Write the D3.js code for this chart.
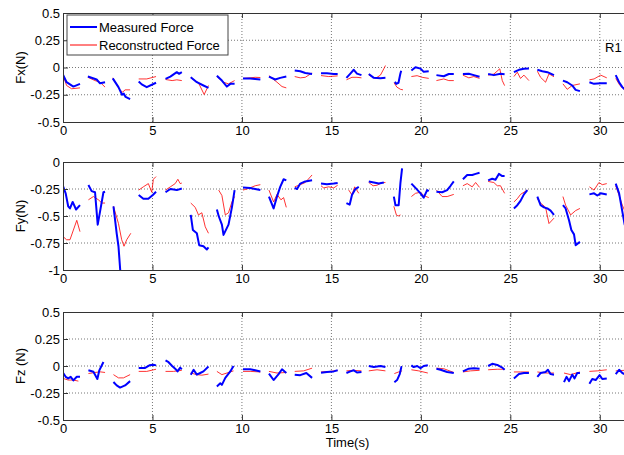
<!DOCTYPE html>
<html>
<head>
<meta charset="utf-8">
<script src="https://cdn.jsdelivr.net/npm/d3@7"></script>
<style>
  body { margin: 0; background: #fff; }
  svg { display: block; font-family: "Liberation Sans", Arial, sans-serif; }
  .grid line { stroke: #777; stroke-dasharray: 1,2; }
  .axis path, .axis line { stroke: #333; }
</style>
</head>
<body>
<div id="chart_div"></div>
<script>

// time axis
var timeTicks = [0, 5, 10, 15, 20, 25, 30];
var fxTicks = [-0.5, -0.25, 0, 0.25, 0.5];
var fyTicks = [-1, -0.75, -0.5, -0.25, 0];
var fzTicks = [-0.5, -0.25, 0, 0.25, 0.5];

// Fx, one array of [t, value] per recorded segment
var fxMeasured = [
    [[0,-0.065],[0.2,-0.135],[0.58,-0.175],[0.95,-0.15]],
    [[1.39,-0.083],[1.88,-0.11],[2.07,-0.145],[2.35,-0.135]],
    [[2.78,-0.10],[3.1,-0.18],[3.3,-0.25],[3.4,-0.24],[3.5,-0.27],[3.75,-0.29]],
    [[4.23,-0.128],[4.4,-0.155],[4.68,-0.18],[5.2,-0.14]],
    [[5.73,-0.104],[6.0,-0.083],[6.36,-0.043],[6.49,-0.058],[6.64,-0.043]],
    [[7.14,-0.09],[7.48,-0.135],[7.85,-0.165],[8.13,-0.187]],
    [[8.6,-0.075],[8.88,-0.12],[9.16,-0.175],[9.35,-0.15],[9.59,-0.15]],
    [[10.06,-0.10],[10.46,-0.1],[10.74,-0.105],[11.03,-0.11]],
    [[11.51,-0.083],[11.86,-0.11],[12.14,-0.095],[12.48,-0.083]],
    [[12.95,-0.028],[13.26,-0.034],[13.54,-0.05],[13.92,-0.06]],
    [[14.42,-0.052],[14.75,-0.052],[15.13,-0.06],[15.35,-0.06]],
    [[15.84,-0.095],[16.06,-0.056],[16.25,-0.021],[16.43,-0.056],[16.68,-0.07]],
    [[17.09,-0.06],[17.37,-0.095],[17.74,-0.098],[18.02,-0.095]],
    [[18.55,-0.13],[18.62,-0.15],[18.75,-0.14],[18.85,-0.06],[18.9,-0.03]],
    [[19.47,-0.028],[19.7,0.003],[19.98,-0.01],[20.16,-0.04],[20.44,-0.035]],
    [[20.87,-0.07],[21.28,-0.08],[21.56,-0.06],[21.84,-0.06]],
    [[22.35,-0.06],[22.68,-0.058],[22.96,-0.07],[23.28,-0.085]],
    [[23.76,-0.06],[24.08,-0.07],[24.45,-0.058],[24.68,-0.062]],
    [[25.2,-0.043],[25.48,-0.021],[25.76,-0.012],[26.04,-0.01]],
    [[26.51,-0.021],[26.79,-0.034],[27.07,-0.043],[27.44,-0.07]],
    [[27.94,-0.12],[28.18,-0.135],[28.46,-0.165],[28.65,-0.205],[28.89,-0.217]],
    [[29.42,-0.135],[29.68,-0.15],[30.05,-0.145],[30.39,-0.145]],
    [[30.89,-0.07],[31.08,-0.135],[31.26,-0.18],[31.39,-0.2],[31.6,-0.21]]
];
var fxReconstructed = [
    [[0,-0.07],[0.2,-0.165],[0.48,-0.195],[0.95,-0.187]],
    [[1.39,-0.09],[1.79,-0.12],[2.07,-0.135],[2.35,-0.18]],
    [[2.78,-0.095],[3.19,-0.21],[3.34,-0.225],[3.47,-0.205],[3.75,-0.205]],
    [[4.23,-0.105],[4.68,-0.105],[5.2,-0.083]],
    [[5.73,-0.11],[6.1,-0.12],[6.36,-0.113],[6.64,-0.12]],
    [[7.14,-0.095],[7.57,-0.14],[7.89,-0.248],[8.13,-0.165]],
    [[8.6,-0.083],[8.97,-0.135],[9.25,-0.15],[9.59,-0.12]],
    [[10.06,-0.10],[10.46,-0.095],[10.74,-0.09],[11.03,-0.092]],
    [[11.51,-0.075],[11.96,-0.135],[12.24,-0.175],[12.48,-0.187]],
    [[12.95,-0.083],[13.26,-0.095],[13.54,-0.09],[13.92,-0.05]],
    [[14.42,-0.074],[14.85,-0.083],[15.35,-0.077]],
    [[15.84,-0.113],[16.15,-0.09],[16.43,-0.09],[16.68,-0.095]],
    [[17.09,-0.07],[17.46,-0.1],[17.74,-0.07],[17.93,-0.012],[18.02,0.018]],
    [[18.5,-0.14],[18.66,-0.18],[18.86,-0.2],[19.0,-0.205]],
    [[19.47,-0.083],[19.79,-0.075],[20.07,-0.09],[20.44,-0.1]],
    [[20.87,-0.12],[21.28,-0.105],[21.56,-0.12],[21.84,-0.12]],
    [[22.35,-0.07],[22.68,-0.095],[22.96,-0.083],[23.28,-0.1]],
    [[23.76,-0.07],[24.08,-0.06],[24.41,-0.012],[24.55,-0.12],[24.68,-0.166]],
    [[25.2,-0.083],[25.39,-0.043],[25.57,-0.1],[25.76,-0.07],[26.04,-0.12]],
    [[26.51,-0.034],[26.69,-0.09],[26.97,-0.135],[27.16,-0.058],[27.44,-0.085]],
    [[27.94,-0.15],[28.18,-0.2],[28.46,-0.165],[28.89,-0.15]],
    [[29.42,-0.113],[29.68,-0.105],[30.05,-0.07],[30.39,-0.095]],
    [[30.89,-0.1],[31.13,-0.166],[31.39,-0.205],[31.6,-0.215]]
];

// Fy
var fyMeasured = [
    [[0,-0.222],[0.15,-0.29],[0.29,-0.41],[0.39,-0.43],[0.54,-0.37],[0.73,-0.44],[0.95,-0.40]],
    [[1.42,-0.213],[1.6,-0.27],[1.79,-0.28],[1.94,-0.58],[2.07,-0.46],[2.26,-0.28],[2.35,-0.275]],
    [[2.82,-0.41],[3.0,-0.66],[3.1,-0.78],[3.22,-1.05]],
    [[4.23,-0.305],[4.49,-0.34],[4.77,-0.34],[5.02,-0.305],[5.2,-0.275]],
    [[5.73,-0.28],[6.0,-0.25],[6.36,-0.26],[6.64,-0.245]],
    [[7.14,-0.49],[7.26,-0.63],[7.48,-0.66],[7.61,-0.77],[7.85,-0.78],[8.04,-0.81],[8.13,-0.79]],
    [[8.6,-0.44],[8.7,-0.5],[8.88,-0.58],[8.97,-0.675],[9.25,-0.58],[9.44,-0.42],[9.59,-0.26]],
    [[10.06,-0.235],[10.46,-0.24],[10.74,-0.25],[11.03,-0.26]],
    [[11.51,-0.32],[11.77,-0.43],[11.96,-0.32],[12.14,-0.23],[12.33,-0.16],[12.48,-0.17]],
    [[12.95,-0.24],[13.08,-0.25],[13.26,-0.2],[13.54,-0.18],[13.92,-0.17]],
    [[14.42,-0.2],[14.75,-0.205],[15.13,-0.2],[15.35,-0.195]],
    [[15.84,-0.38],[16.02,-0.395],[16.15,-0.305],[16.34,-0.25],[16.53,-0.23]],
    [[17.09,-0.18],[17.37,-0.19],[17.65,-0.2],[17.93,-0.19]],
    [[18.49,-0.32],[18.58,-0.4],[18.76,-0.4],[18.86,-0.19],[18.95,-0.06]],
    [[19.47,-0.2],[19.7,-0.24],[19.98,-0.29],[20.16,-0.33],[20.35,-0.26],[20.44,-0.27]],
    [[20.87,-0.275],[21.19,-0.28],[21.47,-0.26],[21.66,-0.22],[21.84,-0.18]],
    [[22.35,-0.16],[22.59,-0.12],[22.87,-0.12],[23.06,-0.11],[23.28,-0.1]],
    [[23.76,-0.17],[23.99,-0.155],[24.17,-0.165],[24.36,-0.11],[24.55,-0.13],[24.68,-0.13]],
    [[25.2,-0.43],[25.39,-0.4],[25.57,-0.36],[25.76,-0.3],[25.95,-0.26]],
    [[26.51,-0.32],[26.69,-0.4],[26.88,-0.42],[27.07,-0.43],[27.25,-0.45],[27.44,-0.49]],
    [[27.94,-0.4],[28.09,-0.43],[28.28,-0.54],[28.41,-0.63],[28.56,-0.67],[28.65,-0.77],[28.89,-0.74]],
    [[29.42,-0.3],[29.68,-0.29],[29.86,-0.31],[30.05,-0.29],[30.39,-0.3]],
    [[30.89,-0.2],[31.08,-0.29],[31.26,-0.46],[31.39,-0.58],[31.6,-0.65]]
];
var fyReconstructed = [
    [[0,-0.69],[0.2,-0.72],[0.39,-0.72],[0.58,-0.63],[0.77,-0.54],[0.95,-0.645]],
    [[1.42,-0.35],[1.7,-0.32],[1.98,-0.35],[2.17,-0.38],[2.35,-0.38]],
    [[2.82,-0.41],[3.1,-0.57],[3.28,-0.72],[3.41,-0.78],[3.56,-0.72],[3.79,-0.66]],
    [[4.23,-0.26],[4.49,-0.23],[4.77,-0.2],[4.96,-0.28],[5.05,-0.16],[5.2,-0.135]],
    [[5.73,-0.26],[6.0,-0.23],[6.27,-0.2],[6.42,-0.16],[6.55,-0.2],[6.64,-0.195]],
    [[7.14,-0.38],[7.39,-0.42],[7.57,-0.49],[7.76,-0.47],[7.95,-0.6],[8.13,-0.66]],
    [[8.7,-0.26],[8.88,-0.31],[9.07,-0.49],[9.25,-0.47],[9.44,-0.37],[9.59,-0.32]],
    [[10.06,-0.26],[10.37,-0.245],[10.74,-0.22],[11.03,-0.21]],
    [[11.51,-0.26],[11.77,-0.37],[11.96,-0.3],[12.18,-0.35],[12.33,-0.33],[12.48,-0.42]],
    [[12.95,-0.23],[13.26,-0.21],[13.54,-0.19],[13.92,-0.12]],
    [[14.42,-0.22],[14.57,-0.24],[14.85,-0.23],[15.13,-0.24],[15.35,-0.215]],
    [[15.97,-0.26],[16.15,-0.305],[16.3,-0.23],[16.53,-0.29]],
    [[17.09,-0.19],[17.33,-0.22],[17.55,-0.215],[17.83,-0.19],[18.02,-0.19]],
    [[18.49,-0.41],[18.63,-0.49],[18.73,-0.5],[18.86,-0.49]],
    [[19.47,-0.32],[19.7,-0.29],[19.98,-0.28],[20.16,-0.31],[20.44,-0.33]],
    [[20.87,-0.26],[21.19,-0.32],[21.47,-0.32],[21.84,-0.3]],
    [[22.35,-0.22],[22.59,-0.2],[22.87,-0.23],[23.06,-0.19],[23.28,-0.235]],
    [[23.76,-0.18],[24.08,-0.19],[24.27,-0.22],[24.45,-0.22],[24.68,-0.29]],
    [[25.2,-0.37],[25.39,-0.34],[25.57,-0.3],[25.76,-0.28],[25.95,-0.26]],
    [[26.51,-0.34],[26.69,-0.38],[26.97,-0.42],[27.16,-0.57],[27.44,-0.52]],
    [[27.94,-0.32],[28.09,-0.4],[28.37,-0.49],[28.65,-0.45],[28.89,-0.43]],
    [[29.42,-0.23],[29.68,-0.26],[29.95,-0.19],[30.14,-0.21],[30.39,-0.2]],
    [[30.89,-0.22],[31.08,-0.31],[31.26,-0.4],[31.39,-0.45],[31.6,-0.5]]
];

// Fz
var fzMeasured = [
    [[0,-0.062],[0.15,-0.10],[0.29,-0.115],[0.43,-0.10],[0.58,-0.133],[0.77,-0.1],[0.95,-0.1]],
    [[1.42,-0.04],[1.7,-0.054],[1.92,-0.12],[2.03,-0.04],[2.26,0.037]],
    [[2.82,-0.148],[3.0,-0.18],[3.19,-0.2],[3.47,-0.18],[3.75,-0.14]],
    [[4.23,-0.018],[4.59,-0.018],[4.83,0.006],[5.05,0.012],[5.2,0.006]],
    [[5.73,0.052],[5.9,0.035],[6.1,0],[6.27,-0.025],[6.4,-0.05],[6.55,-0.015],[6.64,-0.03]],
    [[7.14,-0.08],[7.3,-0.035],[7.48,-0.08],[7.67,-0.065],[7.85,-0.05],[8.13,-0.005]],
    [[8.6,-0.19],[8.79,-0.16],[8.88,-0.175],[9.07,-0.11],[9.35,-0.05],[9.53,0]],
    [[10.06,-0.03],[10.46,-0.03],[10.74,-0.04],[11.03,-0.05]],
    [[11.51,-0.07],[11.77,-0.13],[12.05,-0.075],[12.24,-0.03],[12.48,-0.065]],
    [[12.95,-0.08],[13.26,-0.085],[13.6,-0.065],[13.92,-0.11]],
    [[14.42,-0.062],[14.75,-0.055],[15.13,-0.05],[15.35,-0.04]],
    [[15.84,-0.065],[16.06,-0.05],[16.25,-0.04],[16.43,-0.06],[16.68,-0.055]],
    [[17.09,0],[17.37,-0.01],[17.74,0],[18.02,-0.01]],
    [[18.52,-0.15],[18.67,-0.13],[18.82,-0.075],[18.91,-0.01],[18.95,-0.01]],
    [[19.47,0.006],[19.6,-0.01],[19.79,0],[19.98,-0.02],[20.16,0],[20.39,0.006]],
    [[20.87,-0.025],[21.1,-0.035],[21.47,-0.055],[21.84,-0.065]],
    [[22.35,-0.05],[22.68,-0.025],[22.96,-0.02],[23.28,-0.025]],
    [[23.76,0],[23.99,0.02],[24.27,0.01],[24.55,-0.015],[24.68,-0.035]],
    [[25.2,-0.115],[25.48,-0.075],[25.76,-0.065],[26.04,-0.065]],
    [[26.51,-0.1],[26.69,-0.065],[26.97,-0.055],[27.1,-0.035],[27.25,-0.075],[27.44,-0.08]],
    [[28.0,-0.15],[28.14,-0.1],[28.28,-0.14],[28.46,-0.08],[28.59,-0.115],[28.74,-0.065],[28.89,-0.065]],
    [[29.42,-0.165],[29.58,-0.12],[29.77,-0.13],[29.99,-0.085],[30.14,-0.12],[30.39,-0.115]],
    [[30.89,-0.075],[31.08,-0.035],[31.26,-0.065],[31.39,-0.075]]
];
var fzReconstructed = [
    [[0,-0.115],[0.29,-0.13],[0.58,-0.13],[0.86,-0.14]],
    [[1.42,-0.07],[1.79,-0.06],[2.07,-0.054],[2.35,-0.06]],
    [[2.82,-0.08],[3.1,-0.11],[3.38,-0.11],[3.75,-0.08]],
    [[4.23,-0.05],[4.68,-0.05],[5.2,-0.03]],
    [[5.73,-0.05],[6.17,-0.05],[6.64,-0.04]],
    [[7.14,-0.065],[7.48,-0.08],[7.76,-0.085],[8.13,-0.075]],
    [[8.6,-0.05],[8.88,-0.08],[9.16,-0.065],[9.53,-0.045]],
    [[10.06,-0.05],[10.46,-0.05],[11.03,-0.055]],
    [[11.51,-0.05],[11.96,-0.065],[12.48,-0.06]],
    [[12.95,-0.05],[13.45,-0.045],[13.92,-0.02]],
    [[14.42,-0.055],[14.94,-0.05],[15.35,-0.04]],
    [[15.84,-0.045],[16.25,-0.04],[16.68,-0.045]],
    [[17.09,-0.045],[17.55,-0.035],[18.02,-0.045]],
    [[18.52,-0.07],[18.76,-0.055],[18.95,-0.045]],
    [[19.47,-0.035],[19.88,-0.045],[20.39,-0.065]],
    [[20.87,-0.02],[21.28,-0.025],[21.84,-0.06]],
    [[22.35,-0.055],[22.78,-0.045],[23.28,-0.04]],
    [[23.76,-0.035],[24.27,-0.03],[24.68,-0.03]],
    [[25.2,-0.055],[25.57,-0.055],[26.04,-0.055]],
    [[26.51,-0.055],[26.97,-0.065],[27.44,-0.065]],
    [[28.0,-0.065],[28.37,-0.08],[28.89,-0.055]],
    [[29.42,-0.05],[29.86,-0.045],[30.39,-0.035]],
    [[30.89,-0.045],[31.39,-0.04]]
];

var seriesNames = ["Measured Force", "Reconstructed Force"];
var seriesColors = ["#0000ff", "#ff0000"];


var width = 624, height = 455;
var left = 63, right = 632;

var svg = d3.select("#chart_div").append("svg")
    .attr("width", width)
    .attr("height", height);

var x = d3.scaleLinear().domain([0, 31.8]).range([left, right]);

var panels = [
    {id: "fx", top: 13, bottom: 122, domain: [-0.5, 0.5], ticks: fxTicks, label: "Fx(N)",
        measured: fxMeasured, reconstructed: fxReconstructed},
    {id: "fy", top: 162, bottom: 270, domain: [-1, 0], ticks: fyTicks, label: "Fy(N)",
        measured: fyMeasured, reconstructed: fyReconstructed},
    {id: "fz", top: 312, bottom: 420, domain: [-0.5, 0.5], ticks: fzTicks, label: "Fz (N)",
        measured: fzMeasured, reconstructed: fzReconstructed}
];

panels.forEach(function (p) {

    var y = d3.scaleLinear().domain(p.domain).range([p.bottom, p.top]);
    var g = svg.append("g").attr("class", "panel");

    g.append("clipPath").attr("id", "clip_" + p.id)
        .append("rect")
        .attr("x", left).attr("y", p.top)
        .attr("width", right - left).attr("height", p.bottom - p.top);

    // dotted grid
    var grid = g.append("g").attr("class", "grid");
    grid.selectAll(".vg")
        .data(timeTicks.slice(1))
        .enter().append("line")
        .attr("x1", function (d) { return x(d); })
        .attr("x2", function (d) { return x(d); })
        .attr("y1", p.top).attr("y2", p.bottom);
    grid.selectAll(".hg")
        .data(p.ticks.slice(1, -1))
        .enter().append("line")
        .attr("x1", left).attr("x2", right)
        .attr("y1", function (d) { return y(d); })
        .attr("y2", function (d) { return y(d); });

    var line = d3.line()
        .x(function (d) { return x(d[0]); })
        .y(function (d) { return y(d[1]); });

    var plot = g.append("g").attr("clip-path", "url(#clip_" + p.id + ")");

    plot.selectAll(".rec")
        .data(p.reconstructed)
        .enter().append("path")
        .attr("class", "rec")
        .attr("d", line)
        .attr("fill", "none")
        .attr("stroke", seriesColors[1])
        .attr("stroke-opacity", 0.8)
        .attr("stroke-width", 1);

    plot.selectAll(".meas")
        .data(p.measured)
        .enter().append("path")
        .attr("class", "meas")
        .attr("d", line)
        .attr("fill", "none")
        .attr("stroke", seriesColors[0])
        .attr("stroke-width", 2)
        .attr("stroke-linejoin", "round");

    // axes with inward ticks, MATLAB style box
    var fmt = function (d) { return String(d); };

    g.append("g").attr("class", "axis")
        .attr("transform", "translate(0," + p.bottom + ")")
        .call(d3.axisBottom(x).tickValues(timeTicks).tickSize(-5).tickPadding(4).tickFormat(fmt))
        .call(function (a) {
            a.selectAll("text").attr("font-size", 13).attr("fill", "#000")
                .attr("font-family", "Liberation Sans, Arial, sans-serif");
        });

    g.append("g").attr("class", "axis")
        .attr("transform", "translate(0," + p.top + ")")
        .call(d3.axisTop(x).tickValues(timeTicks).tickSize(-5).tickFormat(""));

    g.append("g").attr("class", "axis")
        .attr("transform", "translate(" + left + ",0)")
        .call(d3.axisLeft(y).tickValues(p.ticks).tickSize(-5).tickPadding(3).tickFormat(fmt))
        .call(function (a) {
            a.selectAll("text").attr("font-size", 13).attr("fill", "#000")
                .attr("font-family", "Liberation Sans, Arial, sans-serif");
        });

    g.append("text")
        .attr("transform", "translate(25," + ((p.top + p.bottom) / 2) + ") rotate(-90)")
        .attr("text-anchor", "middle")
        .attr("font-size", 13)
        .text(p.label);
});

// x axis title
svg.append("text")
    .attr("x", (left + right) / 2)
    .attr("y", 447)
    .attr("text-anchor", "middle")
    .attr("font-size", 13)
    .text("Time(s)");

svg.append("text")
    .attr("x", 605)
    .attr("y", 52)
    .attr("font-size", 13)
    .text("R1");

// legend
var legend = svg.append("g").attr("class", "legend");
legend.append("rect")
    .attr("x", 67).attr("y", 15)
    .attr("width", 161).attr("height", 40)
    .attr("fill", "#fff")
    .attr("stroke", "#444");

var item = legend.selectAll(".item")
    .data(seriesNames)
    .enter().append("g")
    .attr("transform", function (d, i) { return "translate(0," + (27 + i * 18) + ")"; });

item.append("line")
    .attr("x1", 70).attr("x2", 97)
    .attr("stroke", function (d, i) { return seriesColors[i]; })
    .attr("stroke-width", function (d, i) { return i === 0 ? 2 : 1; });

item.append("text")
    .attr("x", 99).attr("y", 4.5)
    .attr("font-size", 13)
    .text(function (d) { return d; });

</script>
</body>
</html>
